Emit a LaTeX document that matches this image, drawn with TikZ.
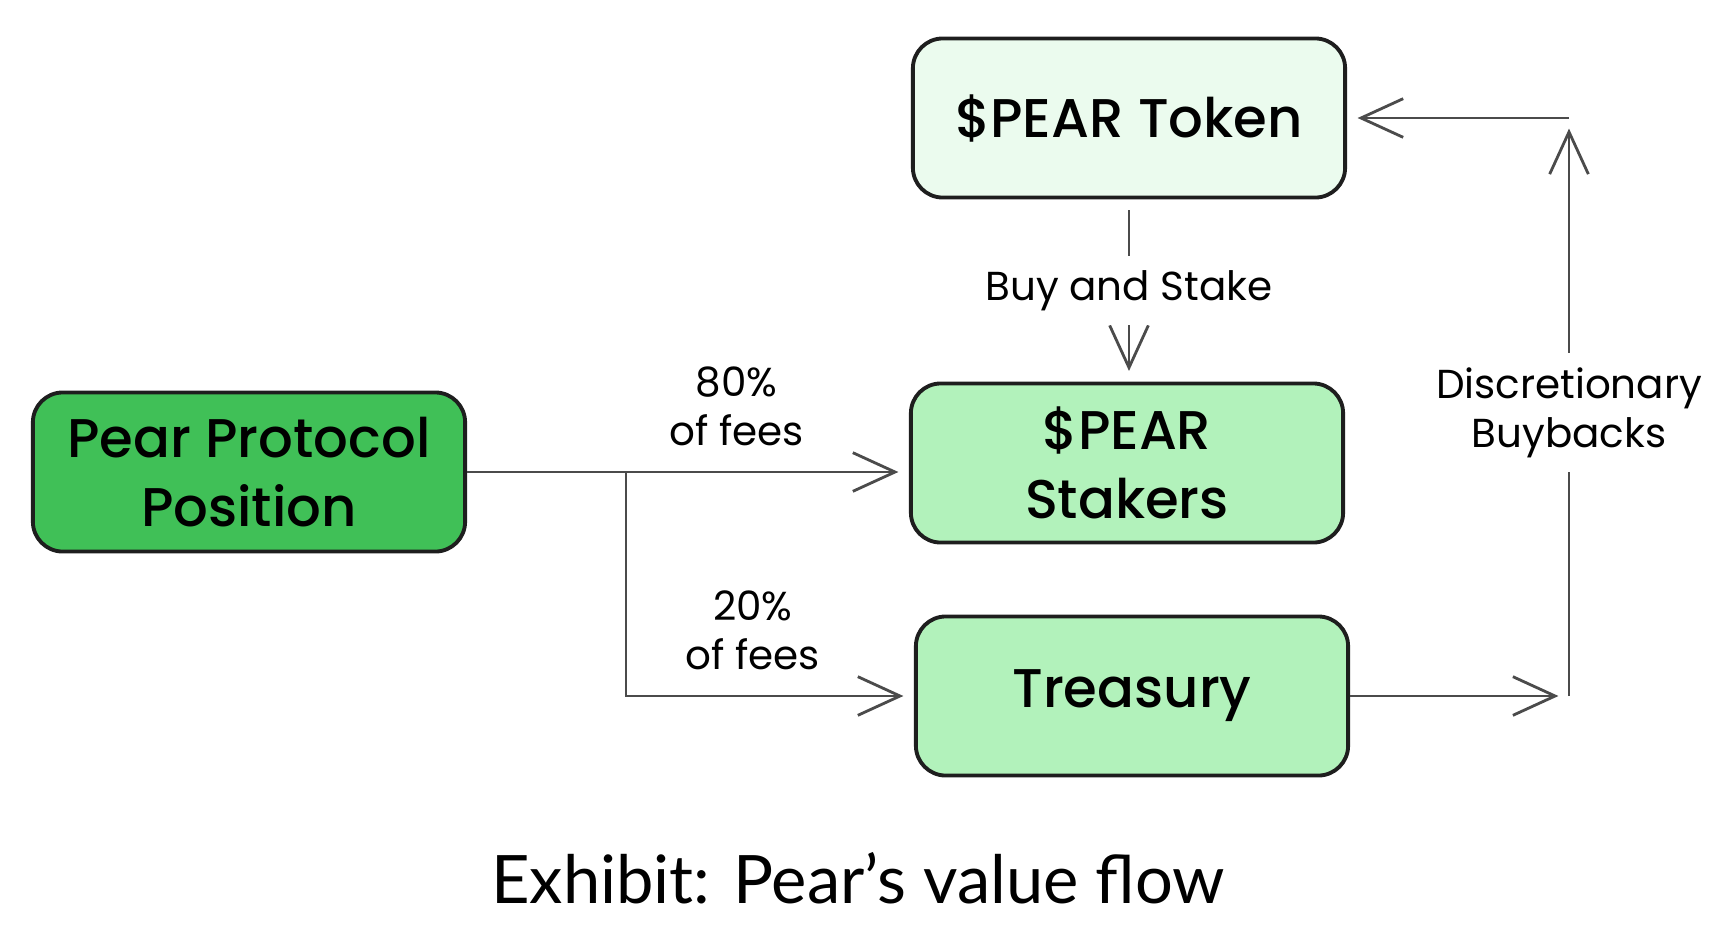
\documentclass[tikz,border=0pt]{standalone}
\usepackage{fontspec}
\setmainfont{Poppins}
\newfontfamily\boxfont{Poppins Medium}
\newfontfamily\capfont{Lato}
\usepackage{tikz}
\usetikzlibrary{arrows.meta}
\definecolor{pgreen}{HTML}{40C057}
\definecolor{pmint}{HTML}{B2F2BB}
\definecolor{pfoam}{HTML}{EBFBEE}
\definecolor{ink}{HTML}{1E1E1E}

\begin{document}
\begin{tikzpicture}[x=0.01cm,y=-0.01cm,
  box/.style={draw=ink,line width=1.1pt,rounded corners=8.5pt,minimum width=4.32cm,minimum height=1.59cm,align=center,font=\boxfont\fontsize{15.5}{19.5}\selectfont},
  flow/.style={draw=ink!80,line width=0.8pt,shorten >=3pt,-{Straight Barb[length=12pt,width=11pt]}},
  lbl/.style={align=center,font=\fontsize{11.5}{14}\selectfont,inner sep=4pt}]
  \useasboundingbox (0,0) rectangle (1718,936);
  \node[box,fill=pgreen] (pos) at (249,472) {Pear Protocol\\Position};
  \node[box,fill=pfoam] (tok) at (1129,118) {\$PEAR Token};
  \node[box,fill=pmint] (stk) at (1127,463) {\$PEAR\\Stakers};
  \node[box,fill=pmint] (tre) at (1132,696) {Treasury};
  \coordinate (fork) at (626,472);
  \coordinate (cbot) at (1569,696);
  \coordinate (ctop) at (1569,118);
  \draw[flow] (pos.east) -- (stk.west |- pos.east) node[lbl,pos=0.61,above=3pt] {80\%\\of fees};
  \draw[flow] (fork) |- (tre.west) node[lbl,pos=0.72,above=3pt] {20\%\\of fees};
  \draw[flow,shorten <=3pt] (tok.south) -- (tok.south |- stk.north) node[lbl,fill=white,midway] {Buy and Stake};
  \draw[flow] (tre.east) -- (cbot);
  \draw[flow] (cbot) -- (ctop) node[lbl,fill=white,pos=0.49] {Discretionary\\Buybacks};
  \draw[flow] (ctop) -- (tok.east);
  \node[font=\capfont\fontsize{19}{22}\selectfont] (cap) at (858,878) {Exhibit: Pear’s value flow};
\end{tikzpicture}
\end{document}
